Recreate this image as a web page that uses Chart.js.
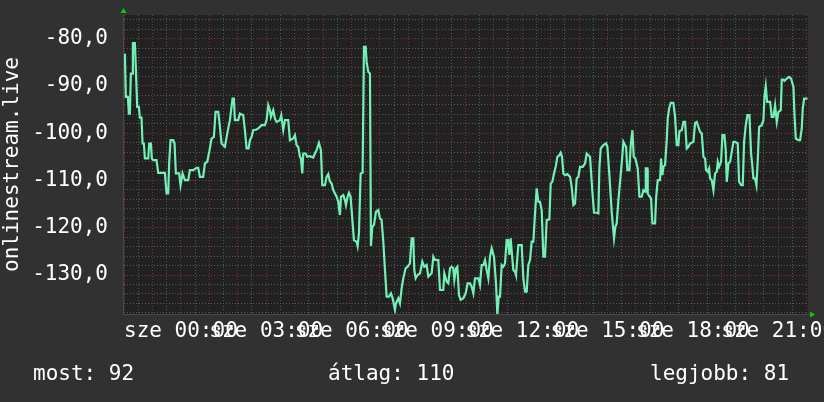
<!DOCTYPE html>
<html>
<head>
<meta charset="utf-8">
<script src="https://cdn.jsdelivr.net/npm/chart.js@4"></script>
<style>
html,body{margin:0;padding:0;background:#313131;}
canvas{display:block;}
</style>
</head>
<body>
<canvas id="c" width="824" height="402"></canvas>
<script>
// time in hours relative to "sze 00:00"
const HOURS = [
-1.970,-1.935,-1.864,-1.829,-1.794,-1.759,-1.712,-1.688,-1.618,-1.583,-1.536,-1.477,-1.442,-1.384,-1.348,-1.301,-1.266,-1.149,-1.114,-1.055,
-1.020,-0.973,-0.856,-0.797,-0.563,-0.504,-0.446,-0.410,-0.363,-0.270,-0.223,-0.176,-0.059,-0.012,0.059,0.141,0.258,0.317,0.434,0.551,
0.610,0.668,0.785,0.844,0.926,0.997,1.079,1.161,1.219,1.313,1.348,1.430,1.548,1.641,1.724,1.817,1.864,1.899,2.017,2.075,
2.193,2.251,2.310,2.380,2.427,2.486,2.544,2.662,2.720,2.837,2.955,3.013,3.072,3.130,3.166,3.248,3.306,3.365,3.482,3.529,
3.599,3.658,3.775,3.834,3.951,
4.010,4.068,4.127,4.186,4.221,4.268,4.303,4.385,4.444,4.537,4.655,4.713,4.772,4.854,4.924,4.971,5.065,5.124,5.182,5.241,
5.300,5.358,5.417,5.475,5.534,5.593,5.628,5.710,5.769,5.804,5.862,5.909,5.968,6.026,6.085,6.179,6.214,6.261,6.320,6.390,
6.437,6.496,6.531,6.589,6.648,6.683,6.730,6.789,6.859,6.941,7.000,7.058,7.117,7.176,7.234,7.316,7.387,7.445,7.527,7.562,
7.645,7.703,7.762,7.820,7.902,7.973,8.055,8.114,8.172,8.207,8.254,8.325,8.407,8.489,8.559,8.641,8.700,8.817,8.876,8.934,
9.052,9.110,9.227,9.263,9.345,9.403,9.462,9.521,9.579,9.614,9.673,9.720,9.778,9.837,9.931,10.013,10.083,
10.165,10.224,10.283,10.341,10.458,10.517,10.576,10.634,10.693,10.752,10.810,10.869,10.928,11.009,11.080,11.127,11.174,11.221,11.279,11.338,
11.396,11.455,11.502,11.549,11.596,11.643,11.689,11.748,11.783,11.865,11.983,12.041,12.100,12.159,12.217,12.276,12.335,12.393,12.452,12.510,
12.569,12.627,12.686,12.745,12.803,12.862,12.956,13.003,13.061,13.120,13.190,13.237,13.307,13.354,13.401,13.448,13.507,13.589,13.683,13.741,
13.800,13.859,13.917,13.976,14.034,14.128,14.210,14.269,14.328,14.386,14.468,14.527,14.621,14.679,14.714,14.762,14.855,14.949,14.996,15.066,
15.148,15.183,15.230,15.277,15.324,15.383,15.441,15.500,15.559,15.617,15.652,15.699,15.770,15.817,15.875,15.922,15.981,16.063,16.122,16.204,
16.262,16.321,16.345,16.400,
16.415,16.485,16.532,16.579,16.673,16.708,16.766,16.848,16.884,16.931,16.966,17.024,17.083,17.118,17.165,17.224,17.317,17.376,17.435,17.493,
17.528,17.611,17.669,17.728,17.786,17.845,17.904,18.021,18.080,18.138,18.197,18.255,18.314,18.373,18.431,18.466,18.525,18.572,18.607,18.666,
18.724,18.783,18.842,18.877,18.924,18.994,19.041,19.111,19.158,19.194,19.252,19.311,19.369,19.428,19.486,19.580,19.627,19.697,19.756,19.803,
19.862,19.920,19.991,20.049,20.096,20.131,20.190,20.237,20.284,20.331,20.425,20.483,20.518,20.565,20.612,20.718,20.776,20.835,20.893,20.952,
21.011,21.093,21.128,21.187,21.222,21.304,21.386,21.456,21.538,21.573,21.620,21.714,21.773,21.831,21.866,21.913,22.031
];
const VALUES = [
-83.17,-92.32,-92.32,-95.85,-95.85,-87.39,-87.39,-80.92,-80.92,-86.34,-94.44,-94.44,-96.69,-96.69,-102.18,-102.18,-105.35,-105.35,-102.18,-102.18,
-105.35,-105.70,-105.70,-108.38,-108.38,-112.75,-112.75,-106.06,-101.48,-101.48,-102.18,-108.52,-108.52,-111.0,-108.52,-109.93,-109.93,-107.82,-107.82,-107.32,
-107.32,-109.23,-109.23,-106.41,-106.06,-103.94,-101.13,-100.77,-95.49,-95.49,-97.25,-102.18,-102.89,-99.72,-97.25,-92.68,-92.68,-97.25,-97.25,-95.85,
-96.2,-99.37,-103.24,-103.24,-101.48,-100.77,-99.37,-99.23,-99.01,-98.31,-98.31,-97.25,-94.08,-95.14,-96.55,-95.14,-96.9,-97.61,-97.25,-96.2,
-99.37,-97.25,-97.25,-101.48,-101.13,
-100.42,-102.54,-102.89,-105.0,-105.35,-108.52,-104.30,-104.30,-105.0,-104.86,-105.14,-104.30,-103.59,-102.04,-103.59,-110.99,-110.99,-109.23,-108.66,-110.28,
-110.63,-112.04,-112.75,-113.45,-114.51,-117.32,-113.45,-113.10,-114.15,-115.21,-113.45,-112.61,-113.45,-118.03,-122.61,-122.96,-123.87,-121.20,-108.52,-108.38,
-81.76,-81.76,-84.93,-87.04,-87.39,-123.87,-119.79,-119.44,-116.62,-116.27,-118.03,-118.38,-122.96,-128.94,-134.58,-134.58,-133.87,-134.93,-137.39,-135.99,
-134.93,-135.99,-132.82,-130.70,-128.59,-128.24,-127.54,-122.25,-122.25,-128.94,-130.70,-130.0,-129.65,-127.18,-128.24,-127.89,-130.35,-129.65,-126.13,-126.83,
-126.83,-133.17,-133.17,-129.65,-131.41,-131.76,-128.59,-128.24,-128.59,-131.06,-128.59,-128.24,-134.23,-135.28,-134.93,-133.87,-131.76,
-131.76,-132.46,-133.87,-130.70,-130.70,-132.11,-127.89,-127.89,-126.83,-128.94,-130.70,-126.13,-124.37,-126.13,-131.76,-138.45,-134.58,-134.58,-127.89,-128.24,
-127.54,-122.61,-122.61,-125.77,-122.25,-125.77,-128.94,-129.30,-130.0,-123.66,-123.66,-130.70,-133.52,-133.52,-127.89,-126.83,-122.96,-122.96,-116.97,-111.69,
-114.51,-114.51,-116.27,-126.13,-126.13,-118.38,-118.24,-110.63,-110.28,-108.52,-106.76,-105.0,-104.65,-104.15,-105.0,-108.52,-108.87,-108.66,-109.23,-111.34,
-115.21,-114.86,-109.58,-109.23,-107.11,-107.11,-106.41,-104.30,-104.65,-105.0,-112.39,-116.83,-116.83,-116.97,-107.46,-103.24,-102.54,-102.18,-102.89,-108.87,
-116.62,-119.08,-122.25,-119.79,-119.08,-114.15,-110.28,-106.41,-101.83,-102.54,-102.89,-107.82,-107.82,-102.54,-99.37,-105.0,-105.35,-107.46,-113.45,-113.45,
-112.04,-112.39,-107.46,-107.46,
-112.75,-113.45,-113.80,-119.08,-119.08,-113.80,-109.93,-109.93,-105.35,-108.87,-107.11,-106.76,-101.48,-96.90,-94.79,-93.59,-93.59,-96.55,-102.54,-102.54,
-99.58,-99.37,-97.61,-97.61,-103.24,-102.89,-102.18,-101.83,-97.82,-97.61,-98.66,-99.72,-100.07,-105.0,-105.35,-107.82,-108.17,-107.46,-109.58,-109.93,
-112.04,-108.52,-108.17,-106.06,-107.11,-106.06,-100.42,-100.42,-103.59,-110.28,-106.41,-106.06,-103.94,-101.83,-101.83,-102.18,-110.28,-110.99,-110.99,-101.83,
-98.31,-96.20,-96.20,-104.30,-107.11,-109.58,-109.58,-110.99,-105.70,-98.66,-98.31,-97.25,-92.32,-90.07,-93.38,-93.38,-96.55,-96.55,-94.08,-97.61,
-95.49,-95.14,-88.66,-88.66,-88.94,-88.45,-88.10,-88.45,-90.21,-95.85,-101.13,-101.48,-101.48,-99.01,-94.79,-92.68,-92.68
];

const X_MIN = -2.0, X_MAX = 22.05;
const Y_MIN = -138.25, Y_MAX = -75.0;
const X_LABEL_HOURS = [0, 3, 6, 9, 12, 15, 18, 21];
const X_LABELS = ['sze 00:00','sze 03:00','sze 06:00','sze 09:00','sze 12:00','sze 15:00','sze 18:00','sze 21:00'];
const Y_LABEL_VALUES = [-130, -120, -110, -100, -90, -80];
const Y_TITLE = 'onlinestream.live';
const LEGEND = [['most: 92', 33], ['átlag: 110', 328], ['legjobb: 81', 650]];

const FONT = {family: "'DejaVu Sans Mono', monospace", size: 21};
const MAJOR = 'rgb(135,50,50)';
const MINOR = 'rgb(88,88,88)';

const points = HOURS.map((h, i) => ({x: h, y: VALUES[i]}));

const bgPlugin = {
  id: 'bg',
  beforeDraw(chart) {
    const {ctx, chartArea: a} = chart;
    ctx.save();
    ctx.fillStyle = '#313131';
    ctx.fillRect(0, 0, chart.width, chart.height);
    ctx.fillStyle = '#212121';
    ctx.fillRect(a.left, a.top, a.right - a.left, a.bottom - a.top);
    ctx.restore();
  },
  afterDraw(chart) {
    const {ctx, chartArea: a} = chart;
    ctx.save();
    ctx.strokeStyle = '#4a4a4a';
    ctx.lineWidth = 1;
    ctx.beginPath();
    ctx.moveTo(a.left - 0.5, a.top);
    ctx.lineTo(a.left - 0.5, a.bottom + 0.5);
    ctx.lineTo(a.right + 3, a.bottom + 0.5);
    ctx.stroke();
    ctx.fillStyle = '#00d000';
    ctx.beginPath();
    ctx.moveTo(a.left - 3.5, a.top - 2);
    ctx.lineTo(a.left + 2.5, a.top - 2);
    ctx.lineTo(a.left - 0.5, a.top - 7);
    ctx.closePath();
    ctx.fill();
    ctx.beginPath();
    ctx.moveTo(a.right + 2, a.bottom - 2.5);
    ctx.lineTo(a.right + 2, a.bottom + 3.5);
    ctx.lineTo(a.right + 7, a.bottom + 0.5);
    ctx.closePath();
    ctx.fill();
    ctx.fillStyle = '#ffffff';
    ctx.font = FONT.size + 'px ' + FONT.family;
    ctx.textBaseline = 'middle';
    ctx.textAlign = 'left';
    LEGEND.forEach(([t, x]) => ctx.fillText(t, x, 375));
    ctx.restore();
  }
};

new Chart(document.getElementById('c'), {
  type: 'line',
  data: {
    datasets: [{
      data: points,
      borderColor: '#72f0b6',
      borderWidth: 2.2,
      pointRadius: 0,
      tension: 0,
      fill: false
    }]
  },
  options: {
    responsive: false,
    animation: false,
    devicePixelRatio: 1,
    layout: {padding: {left: 0, right: 16, top: 15, bottom: 0}},
    plugins: {legend: {display: false}, tooltip: {enabled: false}},
    scales: {
      x: {
        type: 'linear',
        min: X_MIN, max: X_MAX,
        afterBuildTicks: s => {
          const t = [];
          for (let v = -2; v <= 22; v += 0.5) t.push({value: v});
          s.ticks = t;
        },
        afterFit: s => { s.height = 88; s.paddingLeft = 0; s.paddingRight = 0; },
        grid: {
          color: c => (c.tick && Number.isInteger(c.tick.value)) ? MAJOR : MINOR,
          lineWidth: 1,
          drawTicks: false
        },
        border: {display: false, dash: [1, 2]},
        ticks: {
          autoSkip: false, maxRotation: 0, minRotation: 0,
          padding: 5, color: '#ffffff', font: FONT,
          callback: v => {
            const i = X_LABEL_HOURS.indexOf(v);
            return i >= 0 ? X_LABELS[i] : '';
          }
        }
      },
      y: {
        min: Y_MIN, max: Y_MAX,
        afterBuildTicks: s => {
          const t = [];
          for (let v = -138; v <= -76; v += 2) t.push({value: v});
          s.ticks = t;
        },
        afterFit: s => { s.width = 124; s.paddingTop = 0; s.paddingBottom = 0; },
        grid: {
          color: c => (c.tick && c.tick.value % 10 === 0) ? MAJOR : MINOR,
          lineWidth: 1,
          drawTicks: false
        },
        border: {display: false, dash: [1, 2]},
        title: {display: true, text: Y_TITLE, color: '#ffffff', font: FONT, padding: 0},
        ticks: {
          autoSkip: false,
          padding: 16, color: '#ffffff', font: FONT,
          callback: v => Y_LABEL_VALUES.includes(v) ? v.toFixed(1).replace('.', ',') : ''
        }
      }
    }
  },
  plugins: [bgPlugin]
});
</script>
</body>
</html>
